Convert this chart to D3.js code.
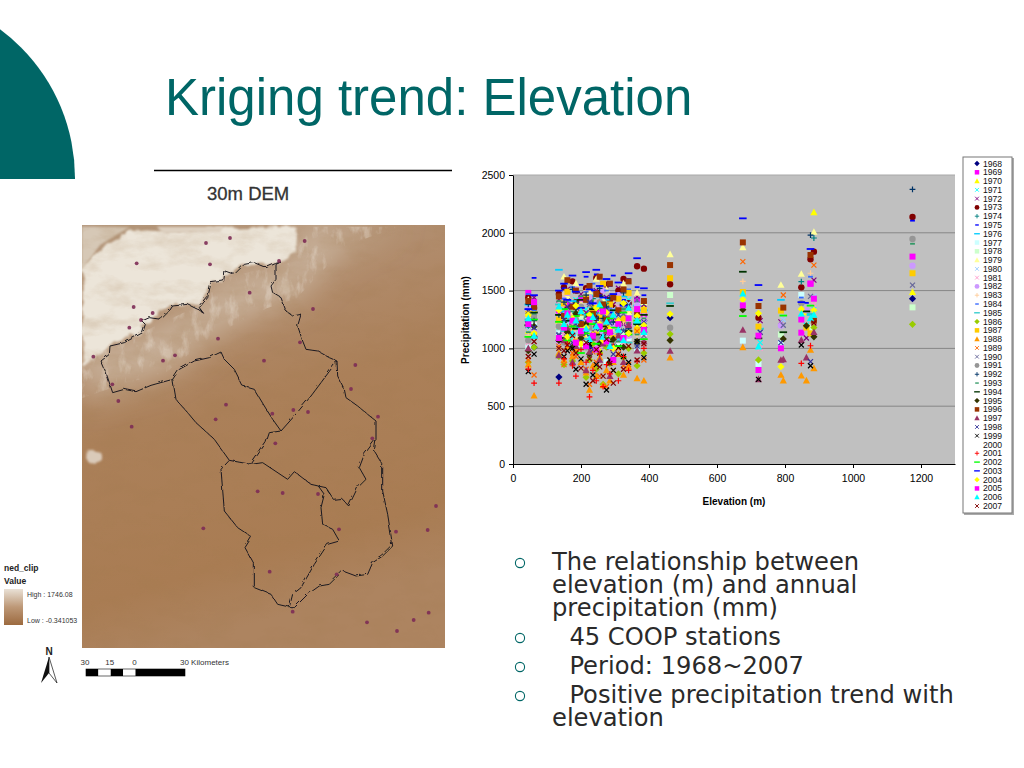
<!DOCTYPE html>
<html><head><meta charset="utf-8">
<script src="https://cdn.jsdelivr.net/npm/d3@7"></script>
<style>html,body{margin:0;padding:0;background:#fff;overflow:hidden}svg{display:block}text{font-family:"Liberation Sans",Arial,sans-serif}</style>
</head><body><svg id="c" width="1024" height="768"></svg>
<script>
// ---------- chart data ----------
const stationElev=[45,62, 135,150,160,175,185,200,215,225,235,245,255,265,275,285,295,310,325,340,365,385, 462,676,722,727,788,795,848,863,875,885,1175];
const years=[1968,1969,1970,1971,1972,1973,1974,1975,1976,1977,1978,1979,1980,1981,1982,1983,1984,1985,1986,1987,1988,1989,1990,1991,1992,1993,1994,1995,1996,1997,1998,1999,2000,2001,2002,2003,2004,2005,2006,2007];
const markers=["diamond","square","triangle","times","times","circle","plus","dash","longdash","square","square","triangle","times","times","circle","plus","dash","longdash","diamond","square","triangle","times","times","circle","plus","dash","longdash","diamond","square","triangle","times","times","none","plus","longdash","longdash","diamond","square","triangle","times"];
const colors=["#000080","#ff00ff","#ffff00","#00ffff","#800080","#800000","#008080","#0000ff","#00ccff","#ccffff","#ccffcc","#ffff99","#99ccff","#ff99cc","#cc99ff","#ffcc99","#3366ff","#33cccc","#99cc00","#ffcc00","#ff9900","#ff6600","#666699","#969696","#003366","#339966","#003300","#333300","#993300","#993366","#333399","#000000","#ffffff","#ff0000","#00ff00","#0000ff","#ffff00","#ff00ff","#00ffff","#800000"];
const p1968=[1230,1010,752,1180,1120,1210,1090,1260,1150,1010,1120,1290,1180,1060,1240,1130,1020,1190,1280,1100,1210,1240,1265,0,0,0,0,0,0,0,0,0,1430];
const p1969=[1480,1240,1310,1260,1380,1180,1090,1430,1230,1120,1290,1340,1050,1210,1150,1380,1260,1090,1310,1200,1420,1280,0,0,813,0,0,0,1136,0,1560,0,0];
const p1970=[1150,1330,1240,1390,1080,1290,1350,1190,1120,1260,1410,1170,980,1300,1220,1080,1370,1150,1240,1330,1190,1360,0,0,0,0,0,0,0,1310,0,2177,1486];
const p1971=[1390,1210,1180,1330,1240,1090,1420,1280,1340,1160,1060,1290,1410,1130,1250,1370,1190,1080,1300,1420,1230,1150,0,0,0,1050,0,0,0,1200,0,1340,0];
const p1972=[1300,1440,1420,1290,1510,1360,1240,1470,1310,1400,1260,1500,1350,1190,1440,1290,1380,1520,1210,1320,1450,1380,0,0,0,1240,1230,0,0,1090,0,1590,0];
const p1973=[1440,1350,1470,1530,1340,1580,1400,1290,1520,1440,1370,1610,1480,1300,1550,1420,1350,1500,1600,1390,1710,1690,1555,0,1266,0,0,0,1528,0,1771,1837,2137];
const p1974=[1180,1290,1350,1240,1120,1280,1400,1310,1190,1260,1430,1340,1180,1110,1290,1370,1220,1310,1150,1280,1390,1210,0,0,0,0,0,0,1577,0,0,1955,0];
const p1975=[1270,1610,1450,1520,1590,1380,1480,1550,1620,1410,1500,1640,1460,1570,1390,1540,1630,1480,1420,1600,1530,1460,0,0,0,1418,0,0,0,1394,0,0,2105];
const p1976=[1380,1100,1680,1320,1240,1410,1180,1350,1290,1460,1220,1380,1300,1150,1420,1260,1340,1190,1450,1280,1370,1330,0,0,0,0,1420,0,0,0,1290,0,0];
const p1977=[1010,1220,1130,1060,1290,1170,1350,1040,1210,1120,1300,990,1160,1240,880,1080,1190,1020,1310,1090,1000,1130,0,1067,866,0,1044,0,1462,0,0,0,0];
const p1978=[1290,1180,1090,1240,1170,1330,1100,1260,1040,1190,1310,1120,1230,1070,1160,1290,1000,1210,1130,1260,1370,1180,1462,0,0,0,1120,0,0,0,1180,0,1355];
const p1979=[1420,1300,1190,1620,1450,1310,1560,1380,1240,1490,1330,1600,1270,1420,1510,1350,1180,1440,1560,1310,1480,1400,1813,1874,0,0,1548,0,1643,0,0,2007,0];
const p1980=[1160,1370,1280,1390,1210,1490,1130,1320,1450,1240,1360,1170,1410,1290,1080,1220,1340,1160,1270,1390,1230,1310,0,0,0,0,0,1250,1390,0,0,1450,0];
const p1981=[1050,1260,1370,1130,1290,1190,1340,1080,1230,1400,1140,1280,1020,1190,1310,1100,1250,1360,1040,1180,1290,1120,0,0,0,1000,0,0,0,1170,0,1380,0];
const p1982=[1340,1150,1060,1420,1480,1230,1510,1350,1170,1440,1280,1390,1120,1500,1230,1340,1190,1460,1290,1110,1370,1250,0,0,0,0,1198,0,0,1330,0,0,1716];
const p1983=[1110,1230,1340,1470,1180,1290,1090,1380,1500,1220,1330,1140,1420,1260,1370,1050,1300,1170,1230,1340,1110,1260,0,1580,0,0,0,0,0,0,1650,0,0];
const p1984=[1470,1330,1200,1430,1290,1530,1370,1240,1490,1310,1560,1190,1400,1280,1500,1350,1450,1230,1380,1510,1260,1340,0,0,0,0,0,0,1440,0,1620,0,0];
const p1985=[1250,1090,1380,1150,1260,1020,1310,1190,1080,1240,1350,1130,1270,1400,1210,1090,1330,1160,1280,1050,1220,1140,1390,0,0,1170,0,0,0,0,1300,0,0];
const p1986=[880,1010,930,860,1060,890,980,1120,750,900,1040,820,960,690,1010,870,1080,780,920,1000,850,960,1124,0,900,0,0,0,0,0,0,1180,1208];
const p1987=[1300,1120,1250,1390,1490,1180,1060,1310,1440,1220,1350,1120,1270,1560,1190,1380,1090,1430,1260,1480,1160,1330,1607,1488,1188,0,1327,0,0,1180,1130,0,1650];
const p1988=[860,590,960,900,1010,930,1000,880,790,640,850,760,920,680,810,720,880,950,770,840,740,720,919,1009,0,0,770,721,764,721,986,827,0];
const p1989=[900,770,1020,860,1120,960,930,1050,820,690,970,880,760,1080,670,900,810,1000,850,860,1150,900,0,1750,0,0,0,1462,0,0,0,1720,0];
const p1990=[1230,1360,1120,1280,1410,1190,1330,1060,1240,1380,1150,1290,1090,1220,1350,1010,1270,1140,1300,1190,1420,1110,0,0,0,0,0,1200,0,0,1450,0,1548];
const p1991=[1070,1280,1190,1050,1320,1120,1250,1360,1010,1180,1290,1090,1400,1230,1130,1280,1060,1210,1340,1150,1030,1170,1179,0,0,0,0,0,1390,0,0,0,1946];
const p1992=[1380,1240,1290,1400,1150,1510,1340,1220,1460,1300,1390,1180,1520,1260,1360,1440,1230,1310,1480,1170,1290,1400,0,0,0,0,0,0,0,0,1980,0,2376];
const p1993=[1140,1300,1410,1230,1090,1320,1190,1450,1270,1110,1350,1210,1050,1300,1390,1160,1280,1060,1340,1220,1120,1260,0,0,0,0,0,0,0,0,0,0,1905];
const p1994=[1200,1310,1290,1090,1240,1370,1170,1420,1030,1280,1340,1120,1450,1190,1260,1060,1330,1230,1380,1150,1210,1290,1367,1663,1087,0,0,1140,0,1320,0,0,0];
const p1995=[980,1190,1070,1230,1140,1010,1300,1090,1210,950,1120,1260,1040,1330,1160,880,1080,1240,1010,1130,1060,1180,1070,1335,0,0,0,1082,0,1195,0,1100,0];
const p1996=[1410,1360,1450,1280,1590,1360,1500,1210,1420,1540,1300,1470,1620,1380,1250,1560,1440,1330,1510,1580,1290,1410,1721,1917,1367,0,0,1353,0,0,1808,1240,0];
const p1997=[1000,1120,940,1070,1180,880,1020,1130,810,970,1090,1210,900,1040,1150,760,1000,1110,880,1200,980,1060,977,1159,732,0,900,905,1072,920,0,1140,0];
const p1998=[1320,1180,1110,1250,1360,1050,1210,1310,1130,1400,990,1260,1170,1080,1340,1220,950,1290,1150,1370,1020,1230,0,0,0,1140,1050,0,0,0,885,0,0];
const p1999=[800,950,1080,930,980,1000,820,910,690,1040,770,860,960,1100,640,900,810,1010,930,880,1060,920,0,0,732,0,0,0,1029,0,850,0,0];
const p2000=[];
const p2001=[820,700,700,910,1040,850,760,990,880,580,810,720,950,670,860,780,1020,720,930,810,890,1000,0,0,0,0,0,0,871,0,1023,0,0];
const p2002=[1100,1250,1230,1340,1070,1190,1280,960,1130,1300,1210,1040,1350,1150,1090,1260,1180,1020,1310,1120,1240,1080,0,1280,0,0,0,1284,0,0,1370,0,0];
const p2003=[1340,1460,1500,1560,1420,1630,1490,1350,1660,1510,1390,1680,1540,1440,1600,1310,1470,1570,1370,1650,1780,1520,0,2125,1548,0,0,0,1400,0,1860,0,0];
const p2004=[1290,1130,1330,1200,1100,1260,1370,1040,1180,1290,1120,1350,1210,1070,1310,1160,1000,1240,1390,1130,1280,1200,1297,1422,1303,0,842,0,1340,0,0,1330,0];
const p2005=[1210,1400,1090,1180,1300,1240,1050,1150,1020,1250,1110,990,1190,1320,1060,1140,900,1210,1090,1260,1340,1160,0,1372,1110,0,1001,0,1250,0,1560,1430,1794];
const p2006=[1260,1110,1360,1210,1290,1130,1240,1320,1170,1080,1270,1190,1380,1100,1230,1020,1290,1160,1070,1350,1240,1140,0,1474,1015,0,0,0,1300,0,1260,1290,0];
const p2007=[930,1060,1000,980,1030,1110,960,830,1050,910,720,990,840,760,1080,870,700,950,820,1020,900,1040,0,0,0,0,0,0,0,0,0,1220,0];
const precip=[p1968,p1969,p1970,p1971,p1972,p1973,p1974,p1975,p1976,p1977,p1978,p1979,p1980,p1981,p1982,p1983,p1984,p1985,p1986,p1987,p1988,p1989,p1990,p1991,p1992,p1993,p1994,p1995,p1996,p1997,p1998,p1999,p2000,p2001,p2002,p2003,p2004,p2005,p2006,p2007];
const xTicks=[0,200,400,600,800,1000,1200];
const yTicks=[0,500,1000,1500,2000,2500];
const bullets=[["The relationship between","elevation (m) and annual","precipitation (mm)"],["  45 COOP stations"],["  Period: 1968~2007"],["  Positive precipitation trend with","elevation"]];
// ---------- map data (map units, 3 per pixel) ----------
const stationsMap=[[170,115],[378,54],[450,39],[674,48],[390,118],[597,108],[509,203],[699,252],[161,246],[218,264],[183,285],[148,308],[414,341],[660,352],[40,395],[285,391],[249,407],[552,407],[826,420],[813,492],[97,478],[115,528],[438,539],[407,583],[640,555],[577,566],[684,561],[894,575],[155,605],[877,640],[586,655],[533,799],[608,804],[714,807],[370,910],[777,913],[948,920],[1043,915],[1068,843],[569,1040],[770,1048],[638,1160],[861,1192],[951,1218],[1001,1185],[1046,1163]];
const northRim=[[60,405],[85,385],[87,360],[130,350],[185,320],[193,295],[183,285],[205,275],[240,280],[265,255],[275,240],[320,235],[350,250],[368,262],[355,245],[380,215],[390,170],[428,165],[432,135],[460,145],[490,115],[520,110],[555,125],[585,112],[600,108],[585,115],[585,160],[570,180],[575,200],[600,215],[615,255],[635,270],[660,265],[650,300],[665,345],[675,370],[710,375],[745,395],[768,405]];
const northBase=[[60,405],[75,440],[95,500],[130,490],[165,497],[210,478],[275,460],[295,430],[340,405],[385,395],[420,378],[430,400],[460,430],[485,480],[520,490],[550,540],[575,580],[600,615],[640,570],[690,510],[720,470],[768,405]];
const eastRim=[[768,405],[770,450],[790,490],[795,515],[830,540],[860,565],[885,585],[885,640],[880,675],[905,715],[905,795],[920,865],[935,960],[905,990],[875,1010],[860,1045],[825,1050],[785,1035],[770,1050],[745,1075],[715,1080],[680,1105],[640,1145],[625,1145]];
const westDivide=[[275,460],[285,520],[320,560],[345,590],[400,640],[445,703]];
const centerDivide=[[600,615],[565,620],[555,650],[510,715]];
const southRim=[[445,703],[420,730],[430,855],[470,905],[512,933],[492,965],[520,1015],[520,1085],[570,1105],[590,1135],[625,1143],[635,1105],[660,1085],[700,1015],[740,955],[775,945],[755,910],[725,895],[720,845],[730,805],[712,780],[690,775],[640,737],[620,760],[545,710],[510,715],[445,703]];
const eastDivide=[[712,780],[735,785],[760,823],[785,820],[803,840],[830,785],[855,760],[835,725],[850,685],[880,645]];
const plainsPoly=[[8,130],[60,70],[150,12],[250,20],[420,12],[650,5],[650,70],[625,105],[560,120],[490,115],[430,160],[390,175],[360,240],[320,235],[270,240],[230,275],[195,300],[190,320],[100,350],[70,380],[8,425]];
const cornerPoly=[[5,5],[150,5],[60,60],[10,130],[5,130]];
const topStrip=[[230,5],[430,5],[420,22],[250,25]];
const slopePoly=[[5,130],[5,520],[120,480],[260,440],[400,330],[560,250],[650,220],[800,60],[960,5],[640,5],[640,110],[430,160],[360,240],[190,320],[70,380]];
const scaleSegs=[[-30,-22.5,"#000"],[-22.5,-15,"#fff"],[-15,-7.5,"#000"],[-7.5,0,"#fff"],[0,30,"#000"]];
const scaleLabels=[[-30,"30"],[-15,"15"],[0,"0"]];

const svg=d3.select("#c");
const defs=svg.append("defs");
const TEAL="#006666";

// ---------- decoration ----------
defs.append("clipPath").attr("id","cap").append("rect").attr("x",0).attr("y",0).attr("width",200).attr("height",179);
svg.append("circle").attr("cx",-110).attr("cy",178).attr("r",185).attr("fill",TEAL).attr("clip-path","url(#cap)");
svg.append("text").attr("x",165).attr("y",115).attr("font-size",51).attr("fill",TEAL).text("Kriging trend: Elevation");
svg.append("line").attr("x1",154).attr("x2",452).attr("y1",170.5).attr("y2",170.5).attr("stroke","#000").attr("stroke-width",1.3);
svg.append("text").attr("x",207).attr("y",200).attr("font-size",18.5).attr("fill","#333").attr("stroke","#333").attr("stroke-width",.3).text("30m DEM");

// ---------- map ----------
const mx=d3.scaleLinear().domain([0,1110]).range([80,450]);
const my=d3.scaleLinear().domain([0,1300]).range([225,225+1300/3]);
const mapLine=d3.line().x(d=>mx(d[0])).y(d=>my(d[1]));
const mapX=82,mapY=225,mapW=363,mapH=423;
const addF=(id,fn)=>{const f=defs.append("filter").attr("id",id).attr("x","-20%").attr("y","-20%").attr("width","140%").attr("height","140%");fn(f);return f;};
defs.append("clipPath").attr("id","mapclip").append("rect").attr("x",mapX).attr("y",mapY).attr("width",mapW).attr("height",mapH);
const g0=defs.append("linearGradient").attr("id","base").attr("x1",0).attr("y1",0).attr("x2",.25).attr("y2",1);
[[0,"#b59a80"],[.3,"#b08a69"],[.5,"#ab8059"],[.85,"#a97c53"],[1,"#ad8460"]].forEach(s=>g0.append("stop").attr("offset",s[0]).attr("stop-color",s[1]));
addF("b8",f=>f.append("feGaussianBlur").attr("stdDeviation",16));
addF("b2",f=>f.append("feGaussianBlur").attr("stdDeviation",1.2));
addF("tex",f=>{f.append("feTurbulence").attr("type","fractalNoise").attr("baseFrequency","0.03 0.06").attr("numOctaves",5).attr("seed",7);
 f.append("feColorMatrix").attr("values","0 0 0 0 0.36  0 0 0 0 0.2  0 0 0 0 0.08  1.6 0 0 0 -0.7");});
addF("white",f=>{f.append("feTurbulence").attr("type","fractalNoise").attr("baseFrequency","0.11 0.05").attr("numOctaves",4).attr("seed",11);
 f.append("feColorMatrix").attr("values","0 0 0 0 0.93  0 0 0 0 0.9  0 0 0 0 0.85  3.5 0 0 0 -1.75");
 f.append("feGaussianBlur").attr("stdDeviation",.5);});
addF("wob",f=>{f.append("feTurbulence").attr("type","turbulence").attr("baseFrequency",0.13).attr("numOctaves",2).attr("seed",3).attr("result","n");
 f.append("feDisplacementMap").attr("in","SourceGraphic").attr("in2","n").attr("scale",3).attr("result","d");
 f.append("feGaussianBlur").attr("in","d").attr("stdDeviation",.3);});
addF("wob2",f=>{f.append("feTurbulence").attr("type","fractalNoise").attr("baseFrequency",0.09).attr("numOctaves",3).attr("seed",5).attr("result","n");
 f.append("feDisplacementMap").attr("in","SourceGraphic").attr("in2","n").attr("scale",8).attr("result","d");
 f.append("feGaussianBlur").attr("in","d").attr("stdDeviation",.9);});
defs.append("clipPath").attr("id","slopeclip").append("path").attr("d",mapLine(slopePoly)+"Z");

const mapG=svg.append("g").attr("clip-path","url(#mapclip)");
mapG.append("rect").attr("x",mapX).attr("y",mapY).attr("width",mapW).attr("height",mapH).attr("fill","url(#base)");
mapG.append("path").attr("d",mapLine(slopePoly)+"Z").attr("fill","#c9b39d").attr("filter","url(#b8)");
mapG.append("g").attr("clip-path","url(#slopeclip)").append("rect").attr("x",mapX).attr("y",mapY).attr("width",mapW).attr("height",mapH).attr("filter","url(#white)").attr("opacity",.3);
mapG.append("path").attr("d",mapLine(plainsPoly)+"Z").attr("fill","#ece5d9").attr("filter","url(#wob2)");
mapG.append("path").attr("d",mapLine(cornerPoly)+"Z").attr("fill","#d6c8b6").attr("filter","url(#b2)");
mapG.append("path").attr("d",mapLine(topStrip)+"Z").attr("fill","#ddd0c0").attr("filter","url(#b2)");
mapG.append("rect").attr("x",mapX).attr("y",mapY).attr("width",mapW).attr("height",mapH).attr("filter","url(#tex)").attr("opacity",.3);
mapG.append("ellipse").attr("cx",mx(42)).attr("cy",my(695)).attr("rx",9).attr("ry",6).attr("fill","#e6ddd2").attr("opacity",.8).attr("filter","url(#wob2)");

const lines=svg.append("g").attr("fill","none").attr("stroke","#1c1a20").attr("stroke-width",1).attr("stroke-linejoin","round").attr("filter","url(#wob)");
[northRim,northBase,eastRim,westDivide,centerDivide,southRim,eastDivide].forEach(l=>lines.append("path").attr("d",mapLine(l)));
svg.append("g").selectAll("circle").data(stationsMap).join("circle").attr("cx",d=>mx(d[0])).attr("cy",d=>my(d[1])).attr("r",1.9).attr("fill","#7d2c55").attr("opacity",.9);

// ---------- map legend ----------
svg.append("text").attr("x",4).attr("y",571).attr("font-size",8.5).attr("font-weight","bold").attr("fill","#222").text("ned_clip");
svg.append("text").attr("x",4).attr("y",584).attr("font-size",8.5).attr("font-weight","bold").attr("fill","#222").text("Value");
const lg=defs.append("linearGradient").attr("id","leg").attr("x1",0).attr("y1",0).attr("x2",0).attr("y2",1);
[[0,"#e9e1d6"],[.5,"#bd9877"],[1,"#9c6a3f"]].forEach(s=>lg.append("stop").attr("offset",s[0]).attr("stop-color",s[1]));
svg.append("rect").attr("x",4).attr("y",589).attr("width",19).attr("height",36).attr("fill","url(#leg)");
svg.append("text").attr("x",27).attr("y",597).attr("font-size",7).attr("fill","#333").text("High : 1746.08");
svg.append("text").attr("x",27).attr("y",623).attr("font-size",7).attr("fill","#333").text("Low : -0.341053");
// north arrow
svg.append("text").attr("x",49).attr("y",655).attr("text-anchor","middle").attr("font-size",10).attr("font-weight","bold").attr("fill","#222").text("N");
svg.append("path").attr("d",d3.line()([[49,657],[41,683],[49,673]])+"Z").attr("fill","#111");
svg.append("path").attr("d",d3.line()([[49,657],[57,683],[49,673]])+"Z").attr("fill","#fff").attr("stroke","#111").attr("stroke-width",.7);
// scale bar
const km=d3.scaleLinear().domain([-30,30]).range([86,185]);
svg.append("g").selectAll("rect").data(scaleSegs).join("rect").attr("x",d=>km(d[0])).attr("y",669).attr("width",d=>km(d[1])-km(d[0])).attr("height",7).attr("fill",d=>d[2]);
svg.append("rect").attr("x",86).attr("y",669).attr("width",99).attr("height",7).attr("fill","none").attr("stroke","#000").attr("stroke-width",.6);
svg.append("g").selectAll("text").data(scaleLabels).join("text").attr("x",d=>km(d[0])-1).attr("y",665).attr("text-anchor","middle").attr("font-size",8).attr("fill","#333").text(d=>d[1]);
svg.append("text").attr("x",180).attr("y",665).attr("font-size",8).attr("fill","#333").text("30 Kilometers");

// ---------- scatter ----------
const x=d3.scaleLinear().domain([0,1300]).range([513,955]);
const y=d3.scaleLinear().domain([0,2500]).range([464,175]);
const symType=k=>({
 draw(ctx){
  if(k==="diamond"){ctx.moveTo(0,-3.6);ctx.lineTo(3.6,0);ctx.lineTo(0,3.6);ctx.lineTo(-3.6,0);ctx.closePath();}
  else if(k==="square"){ctx.rect(-3,-3,6,6);}
  else if(k==="triangle"){ctx.moveTo(0,-3.8);ctx.lineTo(3.6,2.8);ctx.lineTo(-3.6,2.8);ctx.closePath();}
  else if(k==="circle"){ctx.moveTo(3.2,0);ctx.arc(0,0,3.2,0,Math.PI*2);}
  else if(k==="times"){ctx.moveTo(-2.5,-2.5);ctx.lineTo(2.5,2.5);ctx.moveTo(2.5,-2.5);ctx.lineTo(-2.5,2.5);}
  else if(k==="plus"){ctx.moveTo(-2.9,0);ctx.lineTo(2.9,0);ctx.moveTo(0,-2.9);ctx.lineTo(0,2.9);}
  else if(k==="dash"){ctx.rect(-2.4,-.9,4.8,1.8);}
  else if(k==="longdash"){ctx.rect(-3.8,-.9,7.6,1.8);}
 }});
const lineKinds=new Set(["times","plus"]);
const markerPath=k=>d3.symbol().type(symType(k))();
const paint=(sel,i)=>{const k=markers[i],c=colors[i];
 sel.attr("d",markerPath(k)).attr("fill",lineKinds.has(k)?"none":c).attr("stroke",lineKinds.has(k)?c:"none").attr("stroke-width",1.2);};

svg.append("rect").attr("x",513).attr("y",175).attr("width",442).attr("height",289).attr("fill","#c0c0c0");
svg.append("g").selectAll("line").data(yTicks.slice(1)).join("line").attr("x1",513).attr("x2",955).attr("y1",d=>y(d)).attr("y2",d=>y(d)).attr("stroke",(d,i)=>d===2500?"#a8a8a8":"#868686").attr("stroke-width",1);

const plot=svg.append("g");
precip.forEach((vals,i)=>{
 const pts=vals.map((v,j)=>[stationElev[j],v]).filter(d=>d[1]>0);
 plot.append("g").selectAll("path").data(pts).join("path").call(paint,i).attr("transform",d=>`translate(${x(d[0])},${y(d[1])})`);
});

const xAxis=svg.append("g").attr("transform","translate(0,464)").call(d3.axisBottom(x).tickValues(xTicks).tickFormat(d3.format("d")).tickSize(4).tickSizeOuter(0).tickPadding(7));
const yAxis=svg.append("g").attr("transform","translate(513,0)").call(d3.axisLeft(y).tickValues(yTicks).tickFormat(d3.format("d")).tickSize(4).tickSizeOuter(0).tickPadding(4));
[xAxis,yAxis].forEach(a=>{a.selectAll("text").attr("font-size",10.5).attr("font-family","Liberation Sans").attr("fill","#000");a.selectAll("path,line").attr("stroke","#000");});
svg.append("text").attr("transform","translate(469,320) rotate(-90)").attr("text-anchor","middle").attr("font-size",10).attr("font-weight","bold").text("Precipitation (mm)");
svg.append("text").attr("x",734).attr("y",505).attr("text-anchor","middle").attr("font-size",10).attr("font-weight","bold").text("Elevation (m)");

// ---------- legend ----------
svg.append("rect").attr("x",964).attr("y",158).attr("width",50).attr("height",357).attr("fill","#aaa");
svg.append("rect").attr("x",963).attr("y",157).attr("width",49).attr("height",356).attr("fill","#fff").attr("stroke","#777").attr("stroke-width",1);
const ly=d3.scaleLinear().domain([1968,2007]).range([163.5,506]);
const leg=svg.append("g");
years.forEach((yr,i)=>{
 if(markers[i]!=="none") leg.append("path").call(paint,i).attr("transform",`translate(977,${ly(yr)}) scale(.75)`);
 leg.append("text").attr("x",983).attr("y",ly(yr)+3).attr("font-size",8.6).attr("fill","#111").text(yr);
});

// ---------- bullets ----------
const txt=svg.append("g");
let by=570;
bullets.forEach((b,i)=>{
 if(i>0) by+=29;
 txt.append("circle").attr("cx",520).attr("cy",by-7).attr("r",4.6).attr("fill","none").attr("stroke",TEAL).attr("stroke-width",1.1);
 b.forEach((l,j)=>{
  if(j>0) by+=23;
  txt.append("text").attr("x",l.startsWith(" ")?554:552).attr("y",by).style("white-space","pre").attr("font-size",24.2).style("font-family","'DejaVu Sans'").attr("fill","#2a2a2a").text(l);
 });
});
</script></body></html>
